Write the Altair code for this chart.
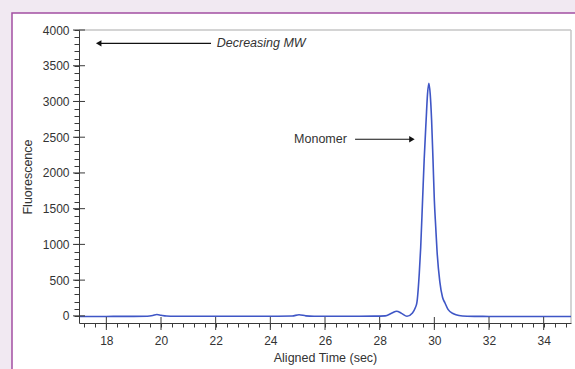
import altair as alt
import pandas as pd

# ---- data ----
time_sec = [17.0, 17.5, 18.0, 18.5, 19.0, 19.5, 19.7, 19.85, 20.0, 20.2, 20.5, 21.0,
            22.0, 23.0, 24.0, 24.8, 25.05, 25.3, 25.6, 26.0, 27.0, 27.8, 28.2, 28.45,
            28.62, 28.8, 29.0, 29.2, 29.3, 29.36, 29.45, 29.5, 29.57, 29.63, 29.7, 29.75,
            29.8, 29.85, 29.9, 29.95, 30.0, 30.05, 30.1, 30.2, 30.3, 30.39, 30.5, 30.7,
            30.9, 31.2, 31.5, 32.0, 33.0, 34.0, 35.0]
fluorescence = [-8, -8, -8, -7, -7, -5, 5, 18, 8, -3, -6, -6,
                -5, -6, -5, -2, 15, 0, -5, -6, -5, -4, 0, 40,
                65, 35, -6, 40, 110, 180, 600, 950, 1620, 2200, 2740, 3100,
                3255, 3100, 2740, 2200, 1620, 1250, 900, 480, 260, 180, 90, 30,
                5, -5, -7, -8, -8, -8, -8]

x_major = [18, 20, 22, 24, 26, 28, 30, 32, 34]
x_minor = [round(17.2 + 0.4 * i, 1) for i in range(45)]
y_major = [0, 500, 1000, 1500, 2000, 2500, 3000, 3500, 4000]
y_minor = list(range(0, 4001, 100))

mw_label = "Decreasing MW"
mw_arrow_t = [17.61, 21.83]
mw_arrow_v = 3814
mono_label = "Monomer"
mono_arrow_t = [27.10, 29.29]
mono_arrow_v = 2471

W, H = 492, 293
FONT = "Liberation Sans"
AX = "#3a3a3a"

line_df = pd.DataFrame({"t": time_sec, "v": fluorescence})

xs = alt.Scale(domain=[17, 35], nice=False, zero=False)
ys = alt.Scale(domain=[-100, 4000], nice=False, zero=False)

X_AXIS = alt.Axis(values=x_minor, tickSize=4, labelPadding=8, titlePadding=5,
                  labelExpr="abs(datum.value % 2) < 0.001 ? format(datum.value, 'd') : ''",
                  grid=False, zindex=2, labelFlush=False, labelOverlap=False)
Y_AXIS = alt.Axis(values=y_minor, tickSize=5, labelPadding=5, titlePadding=8,
                  labelExpr="datum.value % 500 === 0 ? format(datum.value, 'd') : ''",
                  grid=False, zindex=2, labelOverlap=False)

def X(field="t:Q"):
    return alt.X(field, scale=xs, title="Aligned Time (sec)", axis=X_AXIS)

def Y(field="v:Q"):
    return alt.Y(field, scale=ys, title="Fluorescence", axis=Y_AXIS)

one = pd.DataFrame({"a": [0]})

panel = alt.Chart(one).mark_rect(
    fill="white", stroke="#a24fa2", strokeWidth=1.5
).encode(x=alt.value(-67), x2=alt.value(520), y=alt.value(-17), y2=alt.value(360))

frame_top = alt.Chart(one).mark_rule(color="#c6c6c6", strokeWidth=1.5).encode(
    x=alt.value(0), x2=alt.value(W), y=alt.value(0))
frame_right = alt.Chart(one).mark_rule(color="#c6c6c6", strokeWidth=1.5).encode(
    x=alt.value(W), y=alt.value(0), y2=alt.value(H))

line = alt.Chart(line_df).mark_line(
    color="#3f56c6", strokeWidth=1.6, interpolate="monotone"
).encode(x=X(), y=Y())

ymaj = alt.Chart(pd.DataFrame({"v": y_major})).mark_rule(color=AX, strokeWidth=1).encode(
    y=Y(), x=alt.value(-6), x2=alt.value(6))
xmaj = alt.Chart(pd.DataFrame({"t": x_major})).mark_rule(color=AX, strokeWidth=1).encode(
    x=X(), y=alt.value(H - 6), y2=alt.value(H + 7))

arrows_df = pd.DataFrame({
    "t": [mw_arrow_t[0] + 0.1, mono_arrow_t[0]],
    "t2": [mw_arrow_t[1], mono_arrow_t[1] - 0.1],
    "v": [mw_arrow_v, mono_arrow_v],
})
arrow_lines = alt.Chart(arrows_df).mark_rule(color="#111", strokeWidth=1.2).encode(
    x=X(), x2="t2:Q", y=Y())

head_left = alt.Chart(pd.DataFrame({"t": [mw_arrow_t[0] + 0.11], "v": [mw_arrow_v]})).mark_point(
    shape="triangle-left", filled=True, color="#111", size=40, opacity=1).encode(x=X(), y=Y())
head_right = alt.Chart(pd.DataFrame({"t": [mono_arrow_t[1] - 0.11], "v": [mono_arrow_v]})).mark_point(
    shape="triangle-right", filled=True, color="#111", size=40, opacity=1).encode(x=X(), y=Y())

mw_text = alt.Chart(pd.DataFrame({"t": [22.04], "v": [mw_arrow_v], "s": [mw_label]})).mark_text(
    align="left", baseline="middle", font=FONT, fontSize=12.5, fontStyle="italic", color="#333").encode(
    x=X(), y=Y(), text="s:N")
mono_text = alt.Chart(pd.DataFrame({"t": [26.8], "v": [mono_arrow_v], "s": [mono_label]})).mark_text(
    align="right", baseline="middle", font=FONT, fontSize=12.5, color="#333").encode(
    x=X(), y=Y(), text="s:N")

chart = alt.layer(
    panel, frame_top, frame_right, line, ymaj, xmaj, arrow_lines, head_left, head_right, mw_text, mono_text
).properties(
    width=W, height=H,
    autosize=alt.AutoSizeParams(type="none"),
    padding={"left": 79, "top": 30, "right": 4, "bottom": 46},
    background="#f1e9f2",
).configure_view(stroke=None).configure_axis(
    labelFont=FONT, titleFont=FONT, labelFontSize=12, titleFontSize=12.5,
    labelColor="#333", titleColor="#333", titleFontWeight="normal",
    domainColor=AX, tickColor=AX, domainWidth=1, tickWidth=1,
)

chart.save("out.html", embed_options={"renderer": "svg", "actions": False})
